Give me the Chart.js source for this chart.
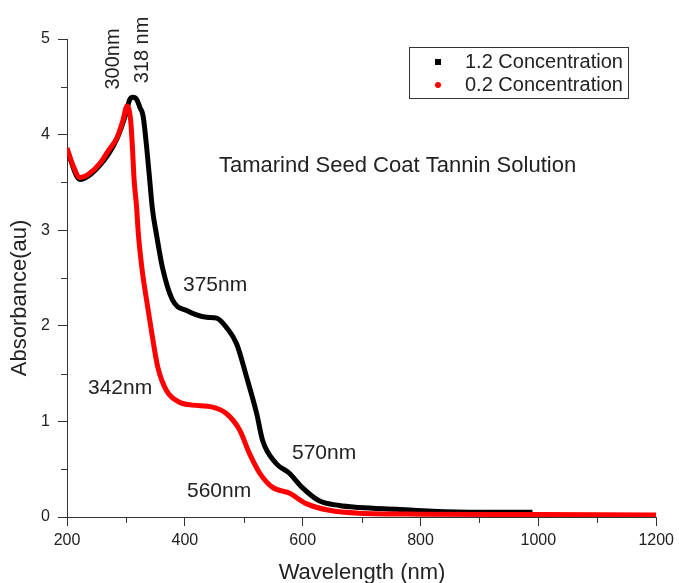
<!DOCTYPE html>
<html lang="en">
<head>
  <meta charset="UTF-8">
  <title>Tamarind Seed Coat Tannin Solution</title>
  <!-- Chart.js (via CDN) -->
  <script src="https://cdn.jsdelivr.net/npm/chart.js"></script>
  <style>
    html, body { margin: 0; padding: 0; background: #fff; }
    canvas { display: block; }
  </style>
</head>
<body>

  <canvas id="spectrumChart" width="679" height="583"></canvas>

  <script>
    // 1.2 concentration (black squares)
    const wlHigh  = [200, 222, 256, 285, 300, 306, 312, 318, 324, 329, 335, 340, 345, 352, 362, 379, 403, 437, 454, 471, 488, 505, 522, 532, 555, 577, 599, 628, 662, 696, 760, 820, 900, 990];
    const absHigh = [3.84, 3.53, 3.68, 3.96, 4.22, 4.36, 4.39, 4.37, 4.28, 4.20, 3.88, 3.55, 3.22, 2.95, 2.61, 2.27, 2.16, 2.09, 2.08, 1.98, 1.81, 1.46, 1.08, 0.80, 0.56, 0.46, 0.31, 0.17, 0.12, 0.10, 0.08, 0.06, 0.05, 0.05];

    // 0.2 concentration (red dots)
    const wlLow  = [200, 210, 222, 235, 256, 270, 285, 295, 302, 308, 311, 314, 318, 321, 327, 335, 344, 354, 369, 391, 413, 447, 471, 493, 510, 527, 549, 577, 606, 645, 696, 800, 1000, 1200];
    const absLow = [3.86, 3.68, 3.55, 3.58, 3.70, 3.83, 3.97, 4.15, 4.30, 4.15, 3.87, 3.52, 3.25, 2.97, 2.61, 2.27, 1.92, 1.57, 1.32, 1.20, 1.17, 1.15, 1.08, 0.91, 0.66, 0.46, 0.31, 0.25, 0.14, 0.07, 0.04, 0.03, 0.025, 0.02];

    const seriesNames = ["1.2 Concentration", "0.2 Concentration"];

    // tick values
    const xTicks = [200, 400, 600, 800, 1000, 1200];
    const xMinor = [300, 500, 700, 900, 1100];
    const yTicks = [0, 1, 2, 3, 4, 5];
    const yMinor = [0.5, 1.5, 2.5, 3.5, 4.5];

    const FONT = '"Liberation Sans", Arial, sans-serif';
    const INK = "#222";

    function drawText(ctx, str, x, y, size, align, rotate) {
      ctx.save();
      ctx.font = size + "px " + FONT;
      ctx.fillStyle = INK;
      ctx.textAlign = align;
      ctx.textBaseline = "middle";
      ctx.translate(x, y);
      if (rotate) ctx.rotate(-Math.PI / 2);
      ctx.fillText(str, 0, 0);
      ctx.restore();
    }

    // minor ticks, labels, legend box and axis titles
    const decorations = {
      id: "decorations",
      afterDraw(chart) {
        const ctx = chart.ctx;
        const xs = chart.scales.x, ys = chart.scales.y;
        const area = chart.chartArea;

        ctx.save();
        ctx.strokeStyle = "#333";
        ctx.lineWidth = 1;
        ctx.beginPath();
        xMinor.forEach(v => {
          const px = Math.round(xs.getPixelForValue(v)) + 0.5;
          ctx.moveTo(px, area.bottom);
          ctx.lineTo(px, area.bottom + 6);
        });
        yMinor.forEach(v => {
          const py = Math.round(ys.getPixelForValue(v)) + 0.5;
          ctx.moveTo(area.left, py);
          ctx.lineTo(area.left - 6, py);
        });
        ctx.stroke();

        // legend
        ctx.strokeRect(409.5, 47.5, 219, 51);
        const ds = chart.data.datasets;
        ctx.fillStyle = ds[0].borderColor;
        ctx.fillRect(435, 59, 6, 6);
        ctx.fillStyle = ds[1].borderColor;
        ctx.beginPath();
        ctx.arc(438, 85, 3, 0, Math.PI * 2);
        ctx.fill();
        ctx.restore();

        drawText(ctx, ds[0].label, 465, 62, 20, "left");
        drawText(ctx, ds[1].label, 465, 85, 20, "left");

        drawText(ctx, "Tamarind Seed Coat Tannin Solution", 219, 166, 22, "left");
        drawText(ctx, "300nm", 113, 59, 20, "center", true);
        drawText(ctx, "318 nm", 142, 50, 20, "center", true);
        drawText(ctx, "375nm", 183, 285, 21, "left");
        drawText(ctx, "342nm", 88, 388, 21, "left");
        drawText(ctx, "570nm", 292, 453, 21, "left");
        drawText(ctx, "560nm", 187, 491, 21, "left");

        drawText(ctx, "Absorbance(au)", 20, 298, 22, "center", true);
        drawText(ctx, "Wavelength (nm)", 362, 573, 22, "center");
      }
    };

    const ctx = document.getElementById("spectrumChart").getContext("2d");
    new Chart(ctx, {
      type: "line",
      data: {
        datasets: [{
          label: seriesNames[0],
          data: wlHigh.map((w, i) => ({ x: w, y: absHigh[i] })),
          borderColor: "#000000",
          backgroundColor: "#000000",
          borderWidth: 5,
          pointRadius: 0,
          cubicInterpolationMode: "monotone",
          order: 2
        }, {
          label: seriesNames[1],
          data: wlLow.map((w, i) => ({ x: w, y: absLow[i] })),
          borderColor: "#ff0000",
          backgroundColor: "#ff0000",
          borderWidth: 5,
          pointRadius: 0,
          cubicInterpolationMode: "monotone",
          order: 1
        }]
      },
      options: {
        responsive: false,
        animation: false,
        layout: { padding: { top: 39, right: 21, left: 0, bottom: 0 } },
        plugins: {
          legend: { display: false },
          tooltip: { enabled: false }
        },
        scales: {
          x: {
            type: "linear",
            min: 200,
            max: 1200,
            afterBuildTicks: s => { s.ticks = xTicks.map(v => ({ value: v })); },
            afterFit: s => { s.height = 66; },
            grid: { drawOnChartArea: false, tickLength: 9, color: "#333" },
            border: { color: "#333", width: 1 },
            ticks: { color: INK, font: { family: FONT, size: 16 }, padding: 5, maxRotation: 0, callback: v => String(v) }
          },
          y: {
            min: 0,
            max: 5,
            afterBuildTicks: s => { s.ticks = yTicks.map(v => ({ value: v })); },
            afterFit: s => { s.width = 67; },
            grid: { drawOnChartArea: false, tickLength: 9, color: "#333" },
            border: { color: "#333", width: 1 },
            ticks: { color: INK, font: { family: FONT, size: 16 }, padding: 8, callback: v => String(v) }
          }
        }
      },
      plugins: [decorations]
    });
  </script>

</body>
</html>
